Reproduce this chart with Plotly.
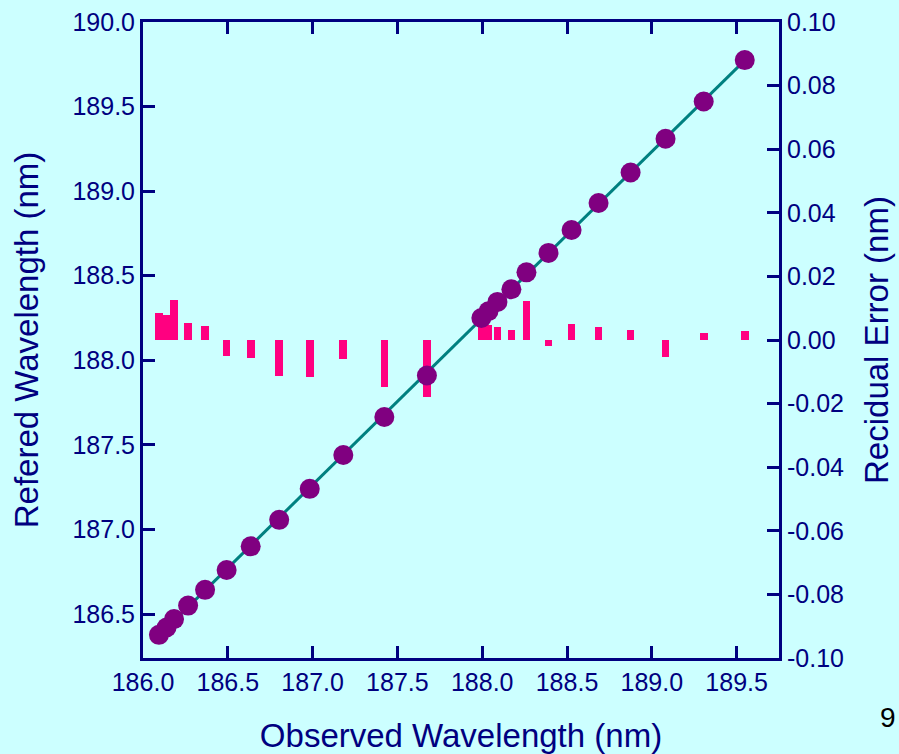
import numpy as np
import plotly.graph_objects as go

# ---- data ----
observed = [186.094, 186.139, 186.183, 186.266, 186.366, 186.493, 186.635, 186.803,
            186.983, 187.181, 187.423, 187.674, 187.995, 188.037, 188.090, 188.172,
            188.261, 188.391, 188.527, 188.686, 188.875, 189.081, 189.306, 189.548]
refered = [186.377, 186.420, 186.470, 186.550, 186.643, 186.760, 186.900, 187.057,
           187.240, 187.440, 187.665, 187.910, 188.250, 188.290, 188.345, 188.420,
           188.520, 188.635, 188.770, 188.930, 189.110, 189.310, 189.530, 189.775]
residual = [0.0085, 0.0079, 0.0126, 0.0053, 0.0044, -0.0050, -0.0057, -0.0113,
            -0.0116, -0.0060, -0.0148, -0.0180, 0.0047, 0.0047, 0.0040, 0.0031,
            0.0123, -0.0019, 0.0050, 0.0040, 0.0030, -0.0053, 0.0022, 0.0028]

x_ticks = [186.0, 186.5, 187.0, 187.5, 188.0, 188.5, 189.0, 189.5]
left_ticks = [186.5, 187.0, 187.5, 188.0, 188.5, 189.0, 189.5, 190.0]
right_tickvals = [-0.10, -0.08, -0.06, -0.04, -0.02, 0.00, 0.02, 0.04, 0.06, 0.08, 0.10]
right_ticktext = ["-0.10", "-0.08", "-0.06", "-0.04", "-0.02", "0.00",
                  "0.02", "0.04", "0.06", "0.08", "0.10"]

NAVY = "#000080"
FONT = "Liberation Sans, Arial, sans-serif"

coef = np.polyfit(observed, refered, 1)
fit_y = np.polyval(coef, observed)

fig = go.Figure()

# residual bars (primary y axis, drawn on the right side)
fig.add_trace(go.Bar(x=observed, y=residual, width=0.045, marker_color="#FF0080",
                     marker_line_width=0, yaxis="y", showlegend=False))
# fit line and points (left axis, overlaying -> drawn on top)
fig.add_trace(go.Scatter(x=observed, y=fit_y, mode="lines",
                         line=dict(color="#008080", width=3), yaxis="y2",
                         showlegend=False))
fig.add_trace(go.Scatter(x=observed, y=refered, mode="markers",
                         marker=dict(color="#800080", size=20, line_width=0),
                         yaxis="y2", showlegend=False))

axis_common = dict(showgrid=False, zeroline=False, showline=True, linecolor=NAVY,
                   linewidth=3, ticks="inside", ticklen=12, tickwidth=2.5,
                   tickcolor=NAVY, tickfont=dict(family=FONT, size=25, color=NAVY),
                   automargin=False)

fig.update_layout(
    width=899, height=754,
    margin=dict(l=143, r=120, t=22, b=96),
    paper_bgcolor="#CCFFFF", plot_bgcolor="#CCFFFF",
    showlegend=False, bargap=0,
    xaxis=dict(range=[186.0, 189.75], tickvals=x_ticks,
               ticktext=[f"{v:.1f}" for v in x_ticks], mirror="ticks",
               title=dict(text="Observed Wavelength (nm)", standoff=30,
                          font=dict(family=FONT, size=33, color=NAVY)),
               **axis_common),
    yaxis=dict(range=[-0.10, 0.10], side="right", tickvals=right_tickvals,
               ticktext=right_ticktext,
               title=dict(text="Recidual Error (nm)", standoff=22,
                          font=dict(family=FONT, size=33, color=NAVY)),
               **axis_common),
    yaxis2=dict(range=[186.24, 190.0], side="left", overlaying="y",
                tickvals=left_ticks, ticktext=[f"{v:.1f}" for v in left_ticks],
                title=dict(text="Refered Wavelength (nm)", standoff=24,
                           font=dict(family=FONT, size=33, color=NAVY)),
                **axis_common),
    annotations=[dict(text="9", xref="paper", yref="paper", x=1.171, y=-0.093,
                      xanchor="center", yanchor="middle",
                      showarrow=False, font=dict(family=FONT, size=28, color="black"))],
)

fig.write_html("out.html",
               config={"displayModeBar": False},
               post_script="document.body.style.margin='0';"
                           "document.body.style.overflow='hidden';")
